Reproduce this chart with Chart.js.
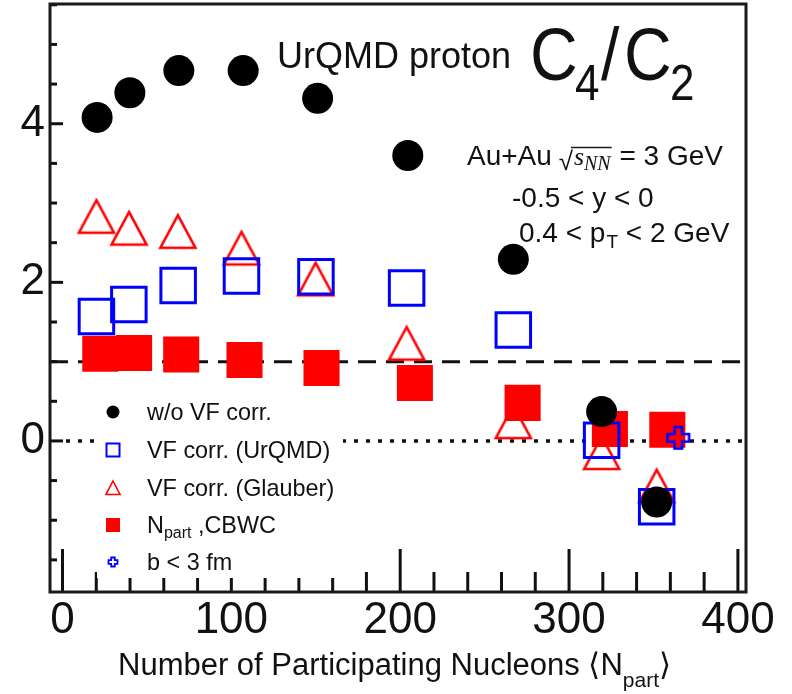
<!DOCTYPE html>
<html><head><meta charset="utf-8">
<script src="https://cdn.jsdelivr.net/npm/chart.js@4.4.0/dist/chart.umd.min.js"></script>
<style>html,body{margin:0;padding:0;background:#fff;}#wrap{width:792px;height:694px;}</style>
</head><body><div id="wrap"><canvas id="c" width="792" height="694"></canvas></div>
<script>
// ---- data ----
const seriesNames = ['w/o VF corr.', 'VF corr. (UrQMD)', 'VF corr. (Glauber)', 'N_part ,CBWC', 'b < 3 fm'];
const npartNoCorr  = [20.5, 39.9, 68.9, 107.0, 151.1, 204.5, 267.0, 319.3, 351.9];
const c4c2NoCorr   = [4.08, 4.39, 4.67, 4.67, 4.32, 3.60, 2.29, 0.37, -0.77];
const npartUrqmd   = [20.1, 39.3, 68.5, 106.0, 150.1, 203.8, 267.0, 319.3, 351.9];
const c4c2Urqmd    = [1.57, 1.72, 1.96, 2.08, 2.07, 1.93, 1.40, 0.01, -0.83];
const npartGlauber = [20.1, 39.4, 68.3, 106.0, 149.9, 203.8, 267.0, 319.3, 351.9];
const c4c2Glauber  = [2.84, 2.69, 2.65, 2.44, 2.05, 1.24, 0.25, -0.14, -0.56];
const npartCbwc    = [22.4, 42.4, 70.3, 107.8, 153.4, 208.7, 272.5, 324.2, 358.2];
const c4c2Cbwc     = [1.10, 1.11, 1.09, 1.02, 0.92, 0.73, 0.48, 0.15, 0.14];
const npartB3      = [364.7];
const c4c2B3       = [0.04];
const xMajorTicks = [0, 100, 200, 300, 400];
const xMinorStep = 20;
const yMajorTicks = [0, 2, 4];
const yMinorStep = 0.5;
const xRange = [-7.4, 404.8];
const yRange = [-1.905, 5.51];
const refLines = [1, 0];

const FONT = '"Liberation Sans", Arial, Helvetica, sans-serif';
const SERIF = '"Liberation Serif", "DejaVu Serif", serif';

function mk(w, h, draw) { const c = document.createElement('canvas'); c.width = w; c.height = h; draw(c.getContext('2d'), w, h); return c; }
function triPath(g, cx, cy, hw, top, bot) { g.beginPath(); g.moveTo(cx, cy + top); g.lineTo(cx + hw, cy + bot); g.lineTo(cx - hw, cy + bot); g.closePath(); }
function crossPath(g, cx, cy, a, b) {
  const p = [[-b,-a],[b,-a],[b,-b],[a,-b],[a,b],[b,b],[b,a],[-b,a],[-b,b],[-a,b],[-a,-b],[-b,-b]];
  g.beginPath(); p.forEach((q, i) => i ? g.lineTo(cx + q[0], cy + q[1]) : g.moveTo(cx + q[0], cy + q[1])); g.closePath();
}
const triBig = mk(46, 46, g => { g.strokeStyle = '#ff0000'; g.lineWidth = 2.6; g.lineJoin = 'miter'; triPath(g, 23, 23, 17.5, -15.6, 17); g.stroke(); });
const crossBig = mk(30, 30, g => { g.strokeStyle = '#0000ff'; g.lineWidth = 2.6; crossPath(g, 15, 15, 10.8, 3.8); g.stroke(); });

const pts = (xs, ys) => xs.map((x, i) => ({ x: x, y: ys[i] }));

const deco = {
  id: 'deco',
  beforeDatasetsDraw(chart) {
    const { ctx, chartArea: a, scales: { x, y } } = chart;
    ctx.save();
    ctx.strokeStyle = '#111';
    ctx.lineWidth = 3; ctx.setLineDash([18, 10]);
    let py = y.getPixelForValue(refLines[0]);
    ctx.beginPath(); ctx.moveTo(a.left, py); ctx.lineTo(a.right, py); ctx.stroke();
    ctx.lineWidth = 3.5; ctx.setLineDash([4, 8]);
    py = y.getPixelForValue(refLines[1]);
    ctx.beginPath(); ctx.moveTo(a.left + 16, py); ctx.lineTo(a.right, py); ctx.stroke();
    ctx.setLineDash([]);
    ctx.lineWidth = 3;
    for (let k = Math.ceil(x.min / xMinorStep); k * xMinorStep <= x.max; k++) {
      const v = k * xMinorStep, px = x.getPixelForValue(v);
      const len = xMajorTicks.includes(v) ? 43 : 20;
      ctx.beginPath(); ctx.moveTo(px, a.bottom); ctx.lineTo(px, a.bottom - len); ctx.stroke();
    }
    for (let k = Math.ceil(y.min / yMinorStep); k * yMinorStep <= y.max; k++) {
      const v = k * yMinorStep, p = y.getPixelForValue(v);
      const len = yMajorTicks.includes(v) ? 13 : 7;
      ctx.beginPath(); ctx.moveTo(a.left, p); ctx.lineTo(a.left + len, p); ctx.stroke();
    }
    ctx.fillStyle = '#fff'; ctx.fillRect(97, 392, 246, 186);
    const lx = 113, tx = 147, rows = [412, 450, 488, 525, 562];
    ctx.fillStyle = '#000'; ctx.beginPath(); ctx.arc(lx, rows[0], 6.5, 0, Math.PI * 2); ctx.fill();
    ctx.strokeStyle = '#0000ff'; ctx.lineWidth = 2; ctx.strokeRect(lx - 6.5, rows[1] - 6.5, 13, 13);
    ctx.strokeStyle = '#ff0000'; ctx.lineWidth = 1.6; triPath(ctx, lx, rows[2], 7, -7, 6.5); ctx.stroke();
    ctx.fillStyle = '#ff0000'; ctx.fillRect(lx - 7, rows[3] - 7, 14, 14);
    ctx.strokeStyle = '#0000ff'; ctx.lineWidth = 1.8; crossPath(ctx, lx, rows[4], 4.5, 1.8); ctx.stroke();
    ctx.fillStyle = '#111'; ctx.textBaseline = 'alphabetic'; ctx.textAlign = 'left';
    ctx.font = '23.4px ' + FONT;
    ctx.fillText(seriesNames[0], tx, rows[0] + 8);
    ctx.fillText(seriesNames[1], tx, rows[1] + 8);
    ctx.fillText(seriesNames[2], tx, rows[2] + 8);
    const np = seriesNames[3].split('_')[1].split(' ');
    ctx.fillText('N', tx, rows[3] + 8);
    let xx = tx + ctx.measureText('N').width;
    ctx.font = '16px ' + FONT; ctx.fillText(np[0], xx, rows[3] + 13);
    xx += ctx.measureText(np[0]).width;
    ctx.font = '23.4px ' + FONT; ctx.fillText(' ' + np[1], xx, rows[3] + 8);
    ctx.fillText(seriesNames[4], tx, rows[4] + 8);
    ctx.restore();
  },
  afterDatasetsDraw(chart) {
    const { ctx, chartArea: a } = chart;
    ctx.save();
    ctx.strokeStyle = '#1a1a1a'; ctx.lineWidth = 3;
    ctx.strokeRect(a.left, a.top, a.right - a.left, a.bottom - a.top);
    ctx.fillStyle = '#111'; ctx.textAlign = 'left'; ctx.textBaseline = 'alphabetic';
    ctx.font = '36px ' + FONT; ctx.fillText('UrQMD proton', 277, 68);
    const big = (s, x0, base, size) => { ctx.save(); ctx.translate(x0, base); ctx.scale(1, 1.12); ctx.font = size + 'px ' + FONT; ctx.fillText(s, 0, 0); ctx.restore(); };
    big('C', 530, 80, 66); big('4', 575, 100, 44); big('/', 601, 80, 66); big('C', 624, 80, 66); big('2', 670, 100, 44);
    ctx.font = '28px ' + FONT; ctx.fillText('Au+Au', 467, 165);
    let x0 = 467 + ctx.measureText('Au+Au ').width;
    ctx.font = '26px ' + FONT; ctx.fillText('\u221A', x0 - 1, 170);
    const rw = ctx.measureText('\u221A').width;
    ctx.font = 'italic 26px ' + SERIF; ctx.fillText('s', x0 + rw, 165);
    const sw = ctx.measureText('s').width;
    ctx.font = 'italic 20px ' + SERIF; ctx.fillText('NN', x0 + rw + sw, 170);
    const nw = ctx.measureText('NN').width;
    const xEnd = x0 + rw + sw + nw + 1;
    ctx.lineWidth = 1.4; ctx.beginPath(); ctx.moveTo(x0 + rw - 3, 147.5); ctx.lineTo(xEnd, 147.5); ctx.stroke();
    ctx.font = '28px ' + FONT; ctx.fillText(' = 3 GeV', xEnd, 165);
    ctx.fillText('-0.5 < y < 0', 512, 207);
    ctx.fillText('0.4 < p', 519, 242);
    x0 = 519 + ctx.measureText('0.4 < p').width;
    ctx.font = '19px ' + FONT; ctx.fillText('T', x0 + 1, 248);
    x0 += ctx.measureText('T').width + 1;
    ctx.font = '28px ' + FONT; ctx.fillText(' < 2 GeV', x0, 242);
    ctx.font = '31px ' + FONT;
    const t1 = 'Number of Participating Nucleons \u27E8N';
    ctx.fillText(t1, 118, 675);
    x0 = 118 + ctx.measureText(t1).width;
    ctx.font = '21px ' + FONT; ctx.fillText('part', x0, 687);
    x0 += ctx.measureText('part').width;
    ctx.font = '31px ' + FONT; ctx.fillText('\u27E9', x0, 675);
    ctx.restore();
  }
};

new Chart(document.getElementById('c'), {
  type: 'scatter',
  data: { datasets: [
    { label: seriesNames[4], data: pts(npartB3, c4c2B3), pointStyle: crossBig, pointRadius: 12, order: 0 },
    { label: seriesNames[0], data: pts(npartNoCorr, c4c2NoCorr), pointStyle: 'circle', pointRadius: 15.5, backgroundColor: '#000', borderWidth: 0, order: 1 },
    { label: seriesNames[1], data: pts(npartUrqmd, c4c2Urqmd), pointStyle: 'rect', pointRadius: 24.4, backgroundColor: 'rgba(0,0,0,0)', borderColor: '#0000ff', borderWidth: 3, order: 2 },
    { label: seriesNames[3], data: pts(npartCbwc, c4c2Cbwc), pointStyle: 'rect', pointRadius: 25.5, backgroundColor: '#ff0000', borderWidth: 0, order: 3 },
    { label: seriesNames[2], data: pts(npartGlauber, c4c2Glauber), pointStyle: triBig, pointRadius: 18, order: 4 }
  ]},
  options: {
    responsive: false, animation: false, devicePixelRatio: 1, events: [],
    layout: { autoPadding: false, padding: { top: 4, right: 46, left: 0, bottom: 0 } },
    plugins: { legend: { display: false }, tooltip: { enabled: false } },
    scales: {
      x: { type: 'linear', min: xRange[0], max: xRange[1],
        afterBuildTicks: s => { s.ticks = xMajorTicks.map(v => ({ value: v })); },
        afterFit: s => { s.height = 102; },
        grid: { display: false, drawTicks: false }, border: { display: false },
        ticks: { font: { family: FONT, size: 44 }, color: '#111', padding: 2, maxRotation: 0, autoSkip: false } },
      y: { type: 'linear', min: yRange[0], max: yRange[1],
        afterBuildTicks: s => { s.ticks = yMajorTicks.map(v => ({ value: v })); },
        afterFit: s => { s.width = 50; s.paddingTop = 0; s.paddingBottom = 0; },
        grid: { display: false, drawTicks: false }, border: { display: false },
        ticks: { font: { family: FONT, size: 44, lineHeight: 0.15 }, color: '#111', padding: 5, autoSkip: false } }
    }
  },
  plugins: [deco]
});
</script>
</body></html>
